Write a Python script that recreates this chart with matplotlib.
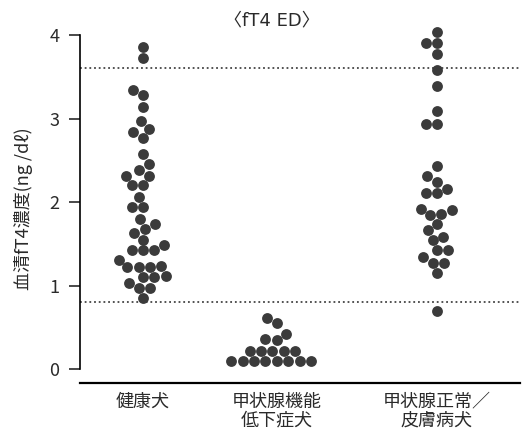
import numpy as np
import pandas as pd
import matplotlib
matplotlib.use("Agg")
import matplotlib.pyplot as plt  # noqa: E402
import seaborn as sns  # noqa: E402

# serum fT4 (ng/dl), one value per dog
healthy = [3.86, 3.73, 3.34, 3.28, 3.14, 2.97, 2.88, 2.84, 2.77, 2.58,
           2.45, 2.38, 2.31, 2.31, 2.20, 2.20, 2.06, 1.94, 1.94, 1.80,
           1.74, 1.68, 1.63, 1.55, 1.49, 1.43, 1.42, 1.42, 1.31, 1.23,
           1.22, 1.22, 1.22, 1.11, 1.10, 1.10, 1.03, 0.97, 0.97, 0.85]
hypothyroid = [0.61, 0.55, 0.42, 0.36, 0.35,
               0.22, 0.22, 0.22, 0.22, 0.22,
               0.10, 0.10, 0.10, 0.10, 0.10, 0.10, 0.10, 0.10]
euthyroid_skin = [4.04, 3.91, 3.91, 3.77, 3.58, 3.39, 3.09, 2.94, 2.94, 2.43,
                  2.31, 2.24, 2.16, 2.11, 2.11, 1.92, 1.91, 1.86, 1.84, 1.74,
                  1.66, 1.58, 1.54, 1.42, 1.42, 1.34, 1.27, 1.27, 1.15, 0.69]
groups = ["健康犬", "甲状腺機能\n低下症犬", "甲状腺正常／\n皮膚病犬"]
ref_range = (0.8, 3.6)   # reference interval (dotted lines)
yticks = [0, 1, 2, 3, 4]

plt.rcParams["font.family"] = ["Noto Sans CJK JP", "DejaVu Sans"]

# layout: group centres on the x axis (middle group sits a bit left)
centres = [0.0, 0.91, 2.0]
rows = []
for c, vals in zip(centres, [healthy, hypothyroid, euthyroid_skin]):
    rows += [(c, v) for v in vals]
df = pd.DataFrame(rows, columns=["pos", "fT4"])

fig = plt.figure(figsize=(5.24, 4.32), dpi=100)
ax = fig.add_axes([0.1527, 0.1458, 0.8397, 0.7925])

sns.swarmplot(data=df, x="pos", y="fT4", native_scale=True, orient="v",
              color="#3b3b3b", size=7.8, linewidth=0, ax=ax)

for r in ref_range:
    ax.axhline(r, color="#444444", lw=1.3, ls=(0, (1, 1.6)), zorder=1)

ax.set_xlim(-0.4286, 2.565)
ax.set_ylim(0, 4.1)
ax.set_xlabel(""); ax.set_ylabel("")

ax.spines[["top", "right"]].set_visible(False)
ax.spines["left"].set_bounds(0, 4)
ax.spines["left"].set_linewidth(1.2)
ax.spines["bottom"].set_position(("outward", 10))
ax.spines["bottom"].set_linewidth(1.6)

ax.set_yticks(yticks)
ax.tick_params(axis="y", length=8, width=1.2, pad=7, labelsize=13, colors="#2a2a2a")
ax.set_xticks(centres, groups)
ax.tick_params(axis="x", length=0, pad=7, labelsize=13, colors="#2a2a2a")
for t in ax.get_xticklabels():
    t.set_linespacing(1.05)

fig.text(0.519, 0.952, "〈fT4 ED〉", ha="center", va="center", fontsize=13,
         family=["DejaVu Sans", "Noto Sans CJK JP"], color="#2a2a2a")
fig.text(0.044, 0.516, "血清fT4濃度(ng /dℓ)", rotation=90, ha="center", va="center",
         fontsize=13, color="#2a2a2a")

fig.savefig("out.png", dpi=100)
